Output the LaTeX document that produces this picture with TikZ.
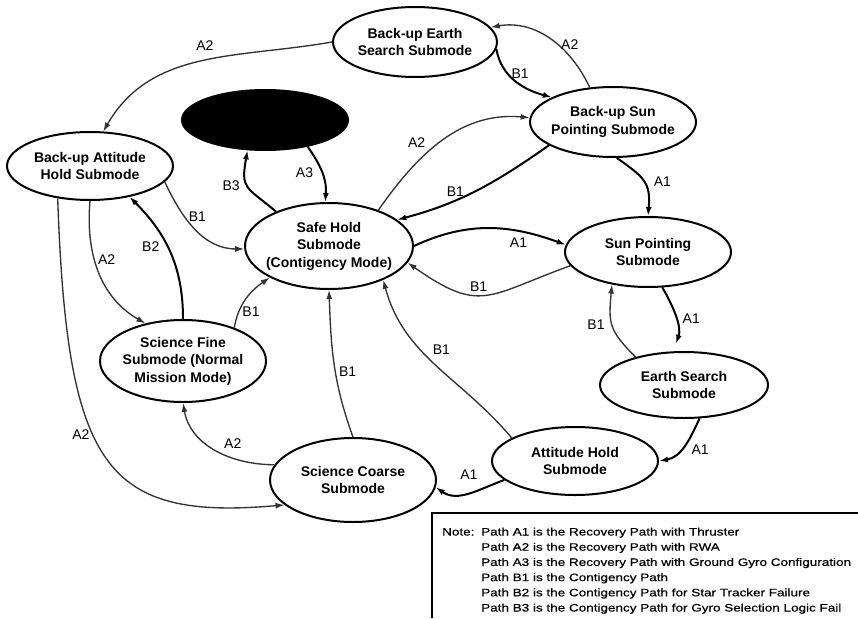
\documentclass[tikz,border=0pt]{standalone}
\usepackage{fontspec}
\setmainfont{Liberation Sans}
\newfontfamily\notefont[FakeStretch=1.25,FakeBold=0.6]{Liberation Sans}
\usetikzlibrary{shapes.geometric,arrows.meta}

\begin{document}
\begin{tikzpicture}[x=1pt,y=1pt,
mode/.style={ellipse,draw,line width=2pt,inner sep=-14pt,align=center,font=\fontsize{14}{17.5}\selectfont\bfseries},
thk/.style={line width=2pt,-{Latex[length=9pt,width=6pt]}},
thn/.style={line width=1.35pt,draw=black!80,-{Latex[length=9pt,width=6pt]}},
lbl/.style={font=\fontsize{14}{16}\selectfont,inner sep=3pt}]
\useasboundingbox (0,0) rectangle (858,-618);

% submodes
\node[mode,minimum width=164,minimum height=70] (bes) at (415,-42) {Back-up Earth\\Search Submode};
\node[mode,minimum width=166,minimum height=70] (bsp) at (613,-122) {Back-up Sun\\Pointing Submode};
\node[mode,minimum width=166,minimum height=70] (sp) at (648,-252) {Sun Pointing\\Submode};
\node[mode,minimum width=168,minimum height=66] (es) at (684,-385) {Earth Search\\Submode};
\node[mode,minimum width=166,minimum height=68] (ah) at (575,-461) {Attitude Hold\\Submode};
\node[mode,minimum width=166,minimum height=84] (sc) at (353,-480) {Science Coarse\\Submode};
\node[mode,minimum width=166,minimum height=82] (sf) at (183,-361) {Science Fine\\Submode (Normal\\Mission Mode)};
\node[mode,minimum width=166,minimum height=68] (bah) at (90,-166) {Back-up Attitude\\Hold Submode};
\node[mode,minimum width=166,minimum height=60,fill=black] (blk) at (265,-120) {};
\node[mode,minimum width=168,minimum height=86] (sh) at (329,-246) {Safe Hold\\Submode\\(Contigency Mode)};

% paths
\draw[thn] (bes.west) to[out=190,in=60] node[lbl,pos=.48,above=6pt]{A2} (bah.69);
\draw[thk] (bes.-5) to[out=-80,in=165] node[lbl,pos=.35,right]{B1} (bsp.158);
\draw[thn] (bsp.124) to[out=115,in=10] node[lbl,pos=.42,right]{A2} (bes.11);
\draw[thn] (sh.36) to[out=55,in=175] node[lbl,pos=.4,above left]{A2} (bsp.177);
\draw[thk] (bsp.200) to[out=215,in=15] node[lbl,pos=.65,above]{B1} (sh.21);
\draw[thk] (bsp.-84) to[out=-35,in=85,looseness=1.3] node[lbl,pos=.5,right=6pt]{A1} (sp.north);
\draw[thk] (sh.east) to[out=25,in=160] node[lbl,pos=.7,below=3pt]{A1} (sp.175);
\draw[thn] (sp.190) to[out=200,in=-35,looseness=1.4] node[lbl,pos=.55,above]{B1} (sh.-12);
\draw[thk,shorten >=8pt] (sp.-68) to[out=-60,in=70] node[lbl,pos=.5,right=3pt]{A1} (es.108);
\draw[thn] (es.150) to[out=135,in=-95,looseness=1.3] node[lbl,pos=.5,left=4pt]{B1} (sp.-138);
\draw[thk] (es.-65) to[out=-115,in=10] node[lbl,pos=.4,below right]{A1} (ah.east);
\draw[thk] (ah.195) to[out=200,in=-35] node[lbl,pos=.5,above=9pt]{A1} (sc.-5);
\draw[thn] (ah.160) to[out=130,in=-75] node[lbl,pos=.55,above right]{B1} (sh.-32);
\draw[thn] (sc.north) to[out=110,in=-88] node[lbl,pos=.45,right]{B1} (sh.south);
\draw[thn] (sc.169) to[out=180,in=-80] node[lbl,pos=.45,above right]{A2} (sf.-90);
\draw[thn] (bah.-135) to[out=-88,in=185,out distance=270pt,in distance=180pt] node[lbl,pos=.42,left]{A2} (sc.-160);
\draw[thn] (bah.-90) to[out=-95,in=150] node[lbl,pos=.4,right]{A2} (sf.135);
\draw[thk] (sf.north) to[out=90,in=-45] node[lbl,pos=.55,left=4pt]{B2} (bah.-38);
\draw[thn] (bah.-12) to[out=-65,in=180] node[lbl,pos=.35,right]{B1} (sh.182);
\draw[thn] (sf.33) to[out=80,in=215] node[lbl,pos=.25,right]{B1} (sh.-152);
\draw[thk] (sh.147) to[out=140,in=-100,looseness=1.5] node[lbl,pos=.5,left=4pt]{B3} (blk.-120);
\draw[thk] (blk.-32) to[out=-55,in=85] node[lbl,pos=.5,left=5pt]{A3} (sh.95);

% note
\draw[line width=1.2pt] (432,-618) -- (432,-513) -- (858,-513);
\node[anchor=base west,inner sep=0,font=\notefont\fontsize{10.8}{15.2}\selectfont] (note) at (442,-535.5)
{\begin{tabular}[t]{@{}p{39pt}@{}l@{}}
Note: & Path A1 is the Recovery Path with Thruster\\
 & Path A2 is the Recovery Path with RWA\\
 & Path A3 is the Recovery Path with Ground Gyro Configuration\\
 & Path B1 is the Contigency Path\\
 & Path B2 is the Contigency Path for Star Tracker Failure\\
 & Path B3 is the Contigency Path for Gyro Selection Logic Fail
\end{tabular}};
\end{tikzpicture}
\end{document}
